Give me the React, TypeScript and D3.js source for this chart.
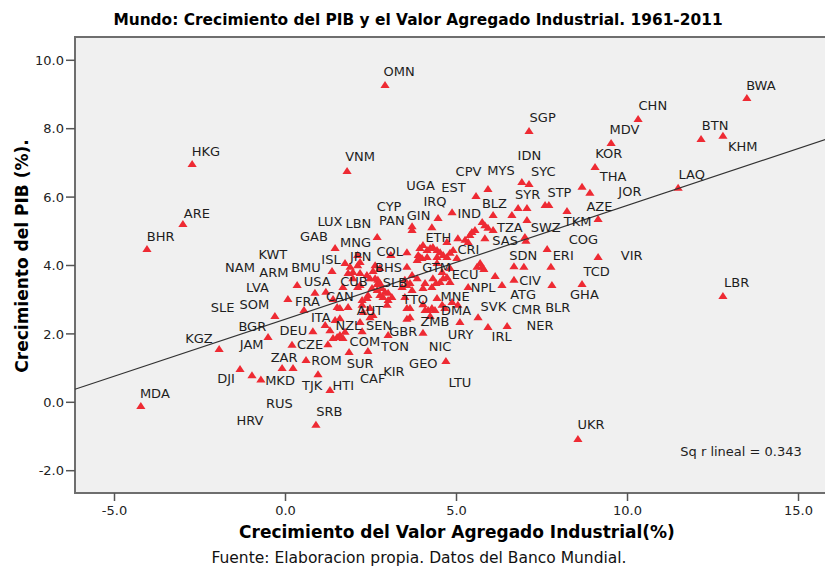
// @ts-nocheck
import * as d3 from "d3";

// GDP growth vs industrial value added growth, 1961-2011
const xTicks = [-5, 0, 5, 10, 15];
const yTicks = [-2, 0, 2, 4, 6, 8, 10];

const fitIntercept = 2.43;
const fitSlope = 0.333;
const rSquared = 0.343;

// [industrial value added growth, GDP growth]
const points = [
  [2.91, 9.28], [-2.73, 6.97], [1.8, 6.76], [-3.0, 5.21], [-4.05, 4.48], [-4.23, -0.11],
  [0.89, -0.66], [8.55, -1.07], [12.79, 3.11], [4.69, 1.21], [13.49, 8.9], [10.31, 8.28],
  [7.12, 7.93], [9.52, 7.58], [12.15, 7.7], [12.79, 7.79], [9.05, 6.88], [8.67, 6.3],
  [8.9, 6.13], [11.48, 6.27], [9.14, 5.36], [8.23, 5.59], [7.59, 5.77], [7.7, 5.77],
  [6.8, 5.68], [7.06, 5.68], [6.91, 6.44], [7.12, 6.38], [5.92, 6.24], [5.57, 6.03],
  [7.06, 5.33], [6.07, 5.48], [6.62, 5.48], [4.87, 5.56], [4.46, 5.39], [3.7, 5.15],
  [2.68, 4.83], [1.45, 4.51], [4.28, 5.12], [9.14, 4.25], [7.65, 4.48], [6.68, 3.98],
  [6.97, 3.96], [7.76, 3.96], [7.0, 4.83], [7.03, 4.72], [6.13, 3.69], [6.68, 3.58],
  [6.33, 3.43], [7.79, 3.43], [8.67, 3.46], [4.81, 3.52], [5.34, 3.37], [4.43, 3.05],
  [3.64, 2.76], [4.08, 2.7], [4.17, 2.7], [4.28, 2.76], [4.37, 2.7], [4.66, 2.76],
  [5.63, 2.49], [5.1, 2.35], [3.55, 2.44], [5.92, 2.2], [6.48, 2.23], [4.02, 2.03],
  [-1.94, 1.56], [-1.33, 0.97], [-0.98, 0.79], [-0.72, 0.67], [-0.1, 1.0], [0.22, 1.0],
  [0.95, 0.82], [1.3, 0.36], [0.6, 1.24], [0.19, 1.68], [1.24, 1.7], [0.8, 2.08],
  [-0.51, 1.91], [-0.31, 2.52], [0.54, 2.7], [0.07, 3.02], [0.34, 3.43], [0.86, 3.2],
  [1.18, 3.23], [1.36, 3.84], [2.11, 4.31], [2.11, 4.01], [1.83, 3.78], [1.97, 3.81],
  [2.18, 3.78], [2.38, 3.72], [2.62, 3.63], [2.7, 3.58], [1.68, 3.37], [2.11, 3.37],
  [3.08, 4.31], [3.55, 4.39], [3.85, 4.16], [3.93, 4.25], [3.55, 3.96], [1.51, 1.91],
  [1.59, 1.97], [1.39, 1.88], [1.68, 1.88], [1.3, 2.11], [1.74, 2.06], [2.24, 2.08],
  [3.0, 1.97], [1.86, 1.47], [2.41, 1.5], [1.16, 2.26], [1.45, 2.41], [1.59, 2.46],
  [1.39, 3.02], [1.51, 2.79], [1.59, 2.76], [1.83, 2.79], [2.24, 2.99], [2.38, 3.05],
  [2.24, 2.85], [2.47, 2.49], [2.56, 2.55], [3.55, 2.76], [2.76, 3.49], [2.91, 3.23],
  [3.0, 2.99], [2.97, 2.85], [2.85, 3.08], [2.68, 3.28], [2.47, 2.76], [2.27, 2.64],
  [2.18, 2.35], [3.0, 3.2], [3.11, 3.08], [3.49, 3.08], [1.74, 4.07], [1.89, 3.96],
  [2.18, 4.1], [2.47, 3.63], [2.56, 3.84], [2.68, 3.46], [2.82, 3.34], [2.76, 3.14],
  [2.53, 3.34], [2.41, 3.14], [1.97, 3.63], [2.18, 3.43], [2.62, 4.01], [2.76, 3.93],
  [3.49, 3.58], [3.55, 3.43], [3.64, 3.49], [3.41, 3.37], [3.7, 3.72], [3.7, 3.28],
  [4.02, 2.87], [4.58, 2.85], [4.87, 2.93], [5.04, 2.85], [3.64, 2.49], [4.23, 2.52],
  [3.93, 4.51], [4.02, 4.6], [4.14, 4.45], [4.23, 4.51], [4.31, 4.54], [4.43, 4.45],
  [3.88, 4.31], [3.99, 4.22], [4.14, 4.25], [4.43, 4.25], [4.52, 4.39], [4.61, 4.31],
  [4.72, 4.25], [4.81, 4.37], [4.9, 4.45], [5.01, 4.22], [4.81, 3.93], [4.43, 4.07],
  [4.58, 3.81], [4.31, 3.63], [4.08, 3.49], [4.61, 3.63], [4.52, 3.52], [3.7, 5.04],
  [4.72, 4.69], [5.04, 4.8], [5.34, 4.69], [5.75, 5.27], [5.83, 5.18], [5.92, 5.1],
  [6.07, 5.04], [5.45, 4.98], [5.54, 5.04], [5.39, 4.89], [5.25, 4.75], [5.83, 4.8],
  [5.69, 4.07], [5.75, 3.96], [5.8, 3.9], [5.6, 3.96], [3.85, 3.63], [4.72, 3.66],
  [4.02, 3.34], [4.28, 3.37], [4.4, 3.49],
];

// country code and where its label sits (data units)
const labels = [
  ["OMN", 3.32, 9.69], ["HKG", -2.33, 7.35], ["VNM", 2.18, 7.18], ["ARE", -2.59, 5.52],
  ["BHR", -3.65, 4.84], ["CYP", 3.03, 5.72], ["PAN", 3.11, 5.31], ["LUX", 1.3, 5.28],
  ["LBN", 2.13, 5.22], ["GAB", 0.83, 4.84], ["MNG", 2.05, 4.69], ["UGA", 3.95, 6.35],
  ["GIN", 3.89, 5.47], ["IRQ", 4.37, 5.87], ["EST", 4.91, 6.29], ["CPV", 5.35, 6.74],
  ["MYS", 6.3, 6.77], ["IDN", 7.13, 7.21], ["SYC", 7.54, 6.74], ["SGP", 7.52, 8.33],
  ["CHN", 10.74, 8.68], ["MDV", 9.91, 7.98], ["BWA", 13.9, 9.28], ["BTN", 12.56, 8.09],
  ["KHM", 13.37, 7.49], ["KOR", 9.45, 7.28], ["THA", 9.58, 6.62], ["JOR", 10.07, 6.16],
  ["LAQ", 11.88, 6.68], ["STP", 8.01, 6.14], ["SYR", 7.08, 6.09], ["AZE", 9.18, 5.72],
  ["TKM", 8.54, 5.28], ["BLZ", 6.11, 5.82], ["IND", 5.37, 5.53], ["TZA", 6.56, 5.13],
  ["SWZ", 7.61, 5.11], ["ETH", 4.47, 4.81], ["SAS", 6.42, 4.73], ["COG", 8.71, 4.77],
  ["CRI", 5.35, 4.48], ["KWT", -0.37, 4.34], ["NAM", -1.33, 3.96], ["ARM", -0.34, 3.8],
  ["BMU", 0.6, 3.96], ["ISL", 1.33, 4.19], ["JPN", 2.2, 4.27], ["COL", 3.05, 4.4],
  ["BHS", 3.01, 3.95], ["USA", 0.93, 3.53], ["CUB", 2.0, 3.53], ["SLB", 3.2, 3.51],
  ["LVA", -0.82, 3.35], ["SOM", -0.91, 2.87], ["SLE", -1.84, 2.77], ["FRA", 0.64, 2.94],
  ["CAN", 1.59, 3.09], ["TTO", 3.79, 3.01], ["AUT", 2.47, 2.68], ["ITA", 1.03, 2.49],
  ["NZL", 1.84, 2.26], ["SEN", 2.74, 2.26], ["BGR", -0.97, 2.21], ["DEU", 0.23, 2.09],
  ["GBR", 3.44, 2.08], ["KGZ", -2.53, 1.87], ["JAM", -0.99, 1.7], ["CZE", 0.72, 1.7],
  ["COM", 2.32, 1.77], ["TON", 3.2, 1.65], ["ZAR", -0.04, 1.32], ["ROM", 1.2, 1.22],
  ["SUR", 2.18, 1.14], ["GEO", 4.03, 1.14], ["KIR", 3.17, 0.92], ["DJI", -1.74, 0.7],
  ["MKD", -0.16, 0.65], ["TJK", 0.78, 0.51], ["HTI", 1.69, 0.51], ["CAF", 2.55, 0.7],
  ["MDA", -3.82, 0.25], ["RUS", -0.18, -0.03], ["SRB", 1.28, -0.27], ["HRV", -1.04, -0.52],
  ["SDN", 6.95, 4.29], ["ERI", 8.12, 4.31], ["VIR", 10.12, 4.29], ["TCD", 9.1, 3.82],
  ["GTM", 4.42, 3.96], ["ECU", 5.25, 3.74], ["CIV", 7.15, 3.58], ["NPL", 5.78, 3.35],
  ["LBR", 13.19, 3.5], ["ATG", 6.95, 3.16], ["GHA", 8.74, 3.16], ["MNE", 4.96, 3.11],
  ["DMA", 4.99, 2.7], ["SVK", 6.08, 2.8], ["CMR", 7.05, 2.73], ["BLR", 7.96, 2.77],
  ["ZMB", 4.37, 2.36], ["NER", 7.44, 2.26], ["URY", 5.12, 1.99], ["IRL", 6.32, 1.92],
  ["NIC", 4.52, 1.65], ["LTU", 5.1, 0.57], ["UKR", 8.93, -0.64],
];

const W = 825;
const H = 566;
const left = 75, top = 37, right = 828, bottom = 493;
const FONT = "'DejaVu Sans', sans-serif";

export default function App() {
  const x = d3.scaleLinear().domain([-6.155, 15.862]).range([left, right]);
  const y = d3.scaleLinear().domain([-2.652, 10.681]).range([bottom, top]);
  const fmt = (v) => d3.format(".1f")(v).replace("\u2212", "-");

  const xd = x.domain();
  const fitLine = d3
    .line()
    .x((d) => x(d))
    .y((d) => y(fitIntercept + fitSlope * d));

  const tri = "M0,-4L4.6,3L-4.6,3Z";

  return (
    <svg width={W} height={H} style={{ position: "absolute", left: 0, top: 0, background: "#fff" }}>
      <text x={418} y={25} textAnchor="middle" fontFamily={FONT} fontWeight="bold" fontSize={15.4} fill="#000">
        Mundo: Crecimiento del PIB y el Valor Agregado Industrial. 1961-2011
      </text>

      <rect x={left} y={top} width={right - left} height={bottom - top} fill="#f0f0f0" stroke="#6e6e6e" strokeWidth={2} />

      {yTicks.map((t) => (
        <g key={"y" + t}>
          <line x1={left - 9} x2={left} y1={y(t)} y2={y(t)} stroke="#555" strokeWidth={1.5} />
          <text x={left - 11} y={y(t)} dy="0.36em" textAnchor="end" fontFamily={FONT} fontSize={13} fill="#222">
            {fmt(t)}
          </text>
        </g>
      ))}
      {xTicks.map((t) => (
        <g key={"x" + t}>
          <line x1={x(t)} x2={x(t)} y1={bottom} y2={bottom + 8} stroke="#555" strokeWidth={1.5} />
          <text x={x(t)} y={515} textAnchor="middle" fontFamily={FONT} fontSize={13} fill="#222">
            {fmt(t)}
          </text>
        </g>
      ))}

      {points.map((p, i) => (
        <path key={i} d={tri} transform={`translate(${x(p[0])},${y(p[1])})`} fill="#ee2a33" />
      ))}

      <path d={fitLine(xd)} fill="none" stroke="#333" strokeWidth={1.2} />

      {labels.map((l) => (
        <text key={l[0]} x={x(l[1])} y={y(l[2])} dy="0.36em" textAnchor="middle" fontFamily={FONT} fontSize={13} fill="#1e1e1e">
          {l[0]}
        </text>
      ))}

      <text x={x(13.32)} y={y(-1.42)} dy="0.36em" textAnchor="middle" fontFamily={FONT} fontSize={13} fill="#1e1e1e">
        {`Sq r lineal = ${rSquared}`}
      </text>

      <text
        transform={`translate(28,256) rotate(-90)`}
        textAnchor="middle"
        fontFamily={FONT}
        fontWeight="bold"
        fontSize={17}
        fill="#000"
      >
        Crecimiento del PIB (%).
      </text>
      <text x={457} y={538} textAnchor="middle" fontFamily={FONT} fontWeight="bold" fontSize={17} fill="#000">
        Crecimiento del Valor Agregado Industrial(%)
      </text>
      <text x={419} y={563} textAnchor="middle" fontFamily={FONT} fontSize={15.5} fill="#111">
        Fuente: Elaboracion propia. Datos del Banco Mundial.
      </text>
    </svg>
  );
}
